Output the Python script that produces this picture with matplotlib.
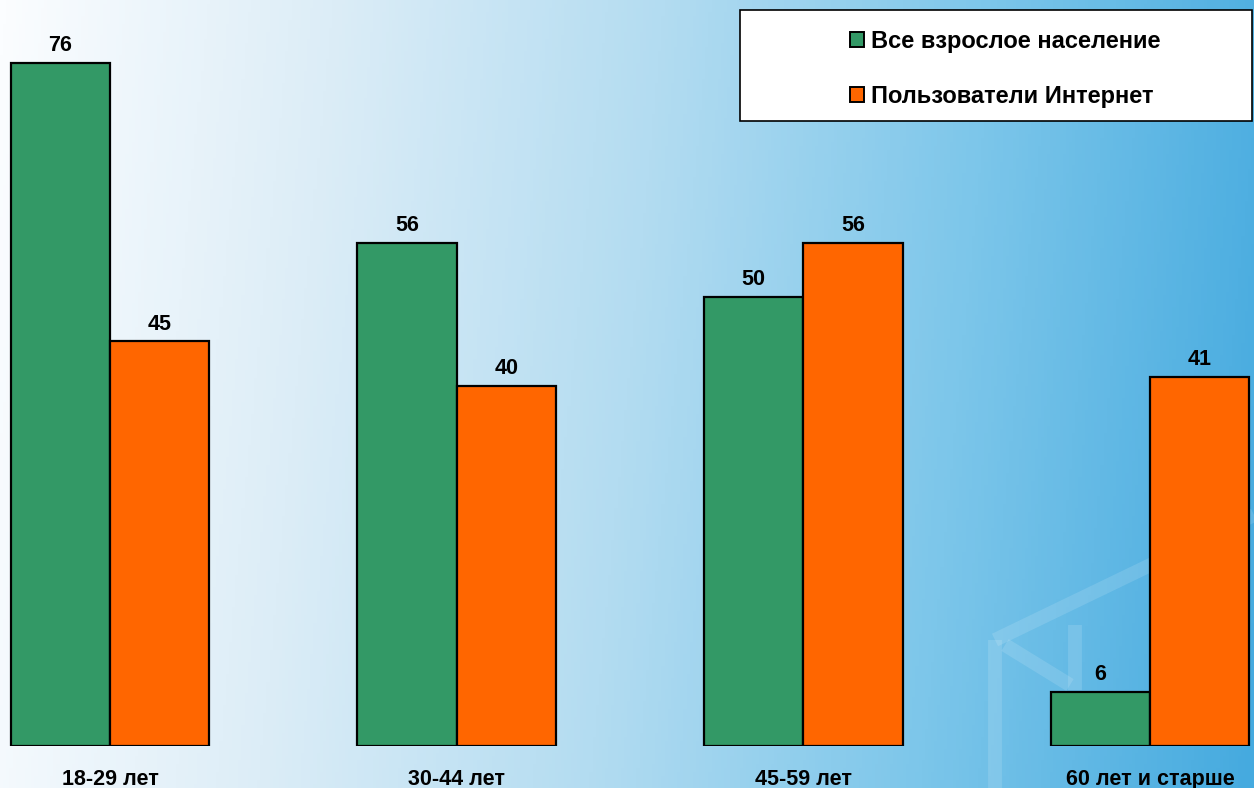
import numpy as np
import matplotlib.pyplot as plt
from matplotlib.colors import LinearSegmentedColormap
from matplotlib.patches import Patch, Rectangle

plt.rcParams['font.family'] = ['Liberation Sans', 'DejaVu Sans']

# data
groups = ['18-29 лет', '30-44 лет', '45-59 лет', '60 лет и старше']
all_adults = [76, 56, 50, 6]
internet_users = [45, 40, 56, 41]
series_names = ['Все взрослое население', 'Пользователи Интернет']

green = '#339966'
orange = '#ff6600'

W, H = 1254, 788
fig = plt.figure(figsize=(W / 100, H / 100), dpi=100)

# background gradient, white on the left to sky blue on the right
bg = fig.add_axes([0, 0, 1, 1], zorder=0)
cmap = LinearSegmentedColormap.from_list('bg', [
    (0.0, '#fbfdff'), (0.25, '#dcedf7'), (0.5, '#b3dcf1'),
    (0.75, '#7cc6ea'), (1.0, '#45aadf')])
gx = np.linspace(0, 1, 400)
gy = np.linspace(0, 1, 200)
grad = gx[None, :] + 0.06 * gy[:, None]
bg.imshow(grad, cmap=cmap, aspect='auto', extent=[0, W, H, 0],
          vmin=0, vmax=1.06)
# faint cube outline in the lower right
for xs, ys in [([995, 1254], [640, 515]), ([995, 995], [640, 788]),
               ([1005, 1070], [645, 685]), ([1075, 1075], [625, 690])]:
    bg.plot(xs, ys, color='white', alpha=0.13, lw=10, solid_capstyle='butt')
bg.set_xlim(0, W)
bg.set_ylim(H, 0)
bg.axis('off')

ax = fig.add_axes([0, 42 / H, 1, 746 / H], zorder=1)
ax.patch.set_alpha(0)
x = np.arange(len(groups))
bw = 0.287
b1 = ax.bar(x - bw / 2, all_adults, bw, color=green, edgecolor='black', linewidth=1.6)
b2 = ax.bar(x + bw / 2, internet_users, bw, color=orange, edgecolor='black', linewidth=1.6)

for bars, vals in [(b1, all_adults), (b2, internet_users)]:
    for r, v in zip(bars, vals):
        ax.annotate(str(v), (r.get_x() + r.get_width() / 2, v),
                    xytext=(0, 8.6), textcoords='offset points',
                    ha='center', va='baseline', fontsize=15.5, fontweight='bold')

for xi, g in zip(x, groups):
    ax.annotate(g, (xi, 0), xytext=(0, -28), textcoords='offset points',
                ha='center', va='baseline', fontsize=15.5, fontweight='bold')

ax.set_xlim(-0.3173, 3.3)
ax.set_ylim(0, 746 / 8.99)
ax.axis('off')

# legend box
fig.patches.append(Rectangle((740 / W, 1 - 121 / H), 512 / W, 111 / H,
                             transform=fig.transFigure, facecolor='white',
                             edgecolor='black', linewidth=1.2, zorder=2))
handles = [Patch(facecolor=green, edgecolor='black', linewidth=1.4),
           Patch(facecolor=orange, edgecolor='black', linewidth=1.4)]
leg = fig.legend(handles, series_names, loc='center',
                 bbox_to_anchor=(1005 / W, 1 - 69 / H), frameon=False,
                 prop={'size': 17, 'weight': 'bold'},
                 handlelength=0.6, handleheight=0.6, handletextpad=0.3,
                 labelspacing=1.35)
leg.set_zorder(3)

fig.savefig('out.png', dpi=100)
